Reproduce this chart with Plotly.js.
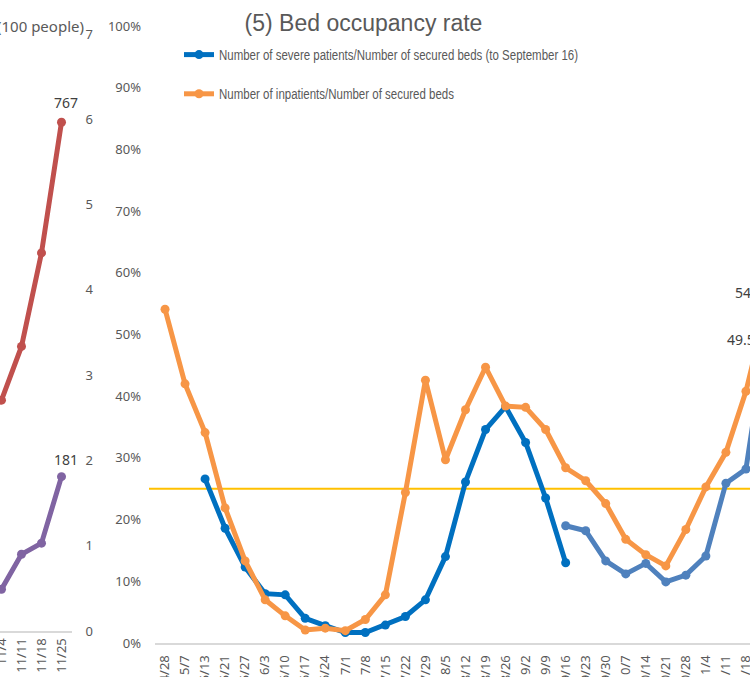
<!DOCTYPE html>
<html>
<head>
<meta charset="utf-8">
<script src="https://cdn.plot.ly/plotly-3.0.1.min.js"></script>
<style>
html, body { margin:0; padding:0; overflow:hidden; background:#fff; }
#chart { width:800px; height:720px; }
</style>
</head>
<body>
<div id="chart"></div>
<script>
// ---- Right chart: bed occupancy rate ----
const weeks = ["4/28","5/7","5/13","5/21","5/27","6/3","6/10","6/17","6/24","7/1","7/8","7/15","7/22","7/29","8/5","8/12","8/19","8/26","9/2","9/9","9/16","9/23","9/30","10/7","10/14","10/21","10/28","11/4","11/11","11/18","11/25"];
const inpatientRate = [0.541,0.420,0.341,0.219,0.133,0.070,0.044,0.021,0.024,0.020,0.038,0.078,0.244,0.426,0.297,0.378,0.447,0.384,0.382,0.346,0.284,0.263,0.226,0.168,0.143,0.125,0.184,0.253,0.309,0.408,0.541];
const severeRateOld = [null,null,0.266,0.186,0.123,0.080,0.078,0.040,0.028,0.017,0.017,0.029,0.043,0.070,0.140,0.261,0.346,0.383,0.325,0.235,0.130,null,null,null,null,null,null,null,null,null,null];
const severeRateNew = [null,null,null,null,null,null,null,null,null,null,null,null,null,null,null,null,null,null,null,null,0.190,0.182,0.133,0.112,0.129,0.099,0.110,0.141,0.259,0.282,0.495];
const thresholdRate = 0.25;
const lastLabelInpatient = "54.1%";
const lastLabelSevere = "49.5%";

// ---- Left (partially visible) chart ----
const leftWeeks = ["11/4","11/11","11/18","11/25"];
const redSeries = [348, 429, 570, 767];
const purpleSeries = [49, 90, 103, 181];
const leftTickVals = [0,100,200,300,400,500,600,700];
const leftTickText = ["0","1","2","3","4","5","6","7"];

const GRAY = "#595959";
const TICKFONT = {family:"Noto Sans, Open Sans, sans-serif", size:13, color:GRAY};
const LEGFONT = {family:"Liberation Sans, Arial, sans-serif", size:14, color:GRAY};

const nameSevere = "Number of severe patients/Number of secured beds (to September 16)";
const nameInpatient = "Number of inpatients/Number of secured beds";

const traces = [
  {x: weeks, y: severeRateOld, type:"scatter", mode:"lines+markers", name:nameSevere, legendgroup:"a",
   line:{color:"#0070C0", width:5}, marker:{color:"#0070C0", size:9}, xaxis:"x", yaxis:"y", connectgaps:false},
  {x: weeks, y: inpatientRate, type:"scatter", mode:"lines+markers", name:nameInpatient, legendgroup:"b",
   line:{color:"#F79646", width:5}, marker:{color:"#F79646", size:9}, xaxis:"x", yaxis:"y"},
  {x: weeks, y: severeRateNew, type:"scatter", mode:"lines+markers", name:"severe (from September 16)", showlegend:false,
   line:{color:"#4F81BD", width:5}, marker:{color:"#4F81BD", size:9}, xaxis:"x", yaxis:"y"},
  {x: leftWeeks, y: redSeries, type:"scatter", mode:"lines+markers", showlegend:false,
   line:{color:"#C0504D", width:5}, marker:{color:"#C0504D", size:9}, xaxis:"x2", yaxis:"y3"},
  {x: leftWeeks, y: purpleSeries, type:"scatter", mode:"lines+markers", showlegend:false,
   line:{color:"#8064A2", width:5}, marker:{color:"#8064A2", size:9}, xaxis:"x2", yaxis:"y2"}
];

const W = 776; // plot width in px (800 - margins)
const layout = {
  width:800, height:720,
  margin:{l:0, r:24, t:26, b:77},
  paper_bgcolor:"#fff", plot_bgcolor:"rgba(0,0,0,0)",
  showlegend:true,
  title:{text:"(5) Bed occupancy rate", font:{family:"Liberation Sans, Arial, sans-serif", size:23, color:GRAY},
         xref:"container", x:0.4544, xanchor:"center", yref:"container", y:0.968, yanchor:"middle"},
  xaxis:{domain:[155/W, 1], type:"category", categoryorder:"array", categoryarray:weeks, range:[-0.5, 30.5],
         showline:true, linecolor:"#D9D9D9", linewidth:2, showgrid:false, zeroline:false, ticks:"",
         tickangle:-90, tickfont:TICKFONT, anchor:"y", ticklabelstandoff:5},
  yaxis:{range:[0,1], dtick:0.1, tickformat:".0%", showgrid:false, zeroline:false, showline:false, ticks:"",
         tickfont:TICKFONT, anchor:"x", ticklabelstandoff:13},
  xaxis2:{domain:[0, 71.5/W], type:"category", categoryorder:"array", categoryarray:leftWeeks, range:[-0.075, 3.5],
          showline:true, linecolor:"#D9D9D9", linewidth:2, showgrid:false, zeroline:false, ticks:"",
          tickangle:-90, tickfont:TICKFONT, anchor:"y2"},
  yaxis2:{domain:[12/617, 609/617], range:[0,700], tickvals:leftTickVals, ticktext:leftTickText, side:"right",
          anchor:"x2", showgrid:false, zeroline:false, showline:false, ticks:"", tickfont:TICKFONT, ticklabelstandoff:13},
  yaxis3:{overlaying:"y2", range:[0,900], visible:false, anchor:"x2", side:"left"},
  legend:{x:179/W, xanchor:"left", y:(643-74.5)/617, yanchor:"middle", font:LEGFONT, bgcolor:"rgba(0,0,0,0)", borderwidth:0,
          traceorder:"grouped", tracegroupgap:18},
  shapes:[
    {type:"line", xref:"paper", x0:149/W, x1:1.2, yref:"y", y0:thresholdRate, y1:thresholdRate, line:{color:"#FFC000", width:2}, layer:"below"}
  ],
  annotations:[
    {text:"(100 people)", xref:"paper", x:86/W, xanchor:"right", yref:"paper", y:(643-26)/617, yanchor:"middle", showarrow:false,
     font:{family:"Noto Sans, sans-serif", size:15, color:GRAY}},
    {text:String(redSeries[3]), xref:"x2", x:leftWeeks[3], yref:"y3", y:redSeries[3], yshift:20, xshift:4, showarrow:false,
     font:{family:"Noto Sans, sans-serif", size:14, color:"#404040"}},
    {text:String(purpleSeries[3]), xref:"x2", x:leftWeeks[3], yref:"y2", y:purpleSeries[3], yshift:17, xshift:4, showarrow:false,
     font:{family:"Noto Sans, sans-serif", size:14, color:"#404040"}},
    {text:lastLabelInpatient, xref:"x", x:weeks[30], yref:"y", y:inpatientRate[30], yshift:17, xshift:-33, xanchor:"left", showarrow:false,
     font:{family:"Noto Sans, sans-serif", size:14, color:"#404040"}},
    {text:lastLabelSevere, xref:"x", x:weeks[30], yref:"y", y:severeRateNew[30], yshift:-2, xshift:-41, xanchor:"left", showarrow:false,
     font:{family:"Noto Sans, sans-serif", size:14, color:"#404040"}}
  ]
};

// widths of the condensed legend texts in the reference (px)
const widthSevere = 359, widthInpatient = 235;

function condenseLegend(gd){
  gd.querySelectorAll("text.legendtext").forEach(function(t){
    const s = t.textContent || "";
    let w = 0;
    if (s.indexOf("severe") >= 0) w = widthSevere;
    else if (s.indexOf("inpatients") >= 0) w = widthInpatient;
    if (w) {
      t.setAttribute("textLength", w);
      t.setAttribute("lengthAdjust", "spacingAndGlyphs");
    }
  });
}

const gdEl = document.getElementById("chart");
Plotly.newPlot(gdEl, traces, layout, {displayModeBar:false, staticPlot:true}).then(function(gd){
  condenseLegend(gd);
  setTimeout(function(){ condenseLegend(gd); }, 0);
  setTimeout(function(){ condenseLegend(gd); }, 100);
});
</script>
</body>
</html>
